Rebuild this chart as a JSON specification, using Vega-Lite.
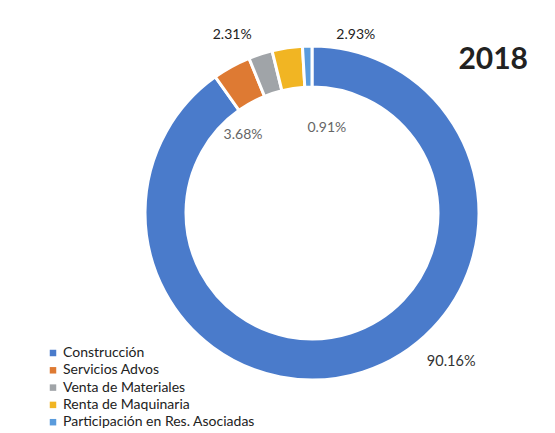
{
  "$schema": "https://vega.github.io/schema/vega-lite/v6.json",
  "autosize": {"type": "none"},
  "width": 486,
  "height": 426,
  "padding": {"left": 69, "top": 0, "right": 0, "bottom": 7},
  "background": "white",
  "title": {
    "text": "2018",
    "anchor": "end",
    "orient": "top",
    "font": "Lato",
    "fontSize": 30,
    "fontWeight": "bold",
    "color": "#222222",
    "baseline": "alphabetic",
    "offset": 0,
    "dx": -27,
    "dy": 99
  },
  "data": {
    "values": [
      {"categoria": "Construcción", "valor": 90.16, "etiqueta": "90.16%", "orden": 1},
      {"categoria": "Servicios Advos", "valor": 3.68, "etiqueta": "3.68%", "orden": 2},
      {"categoria": "Venta de Materiales", "valor": 2.31, "etiqueta": "2.31%", "orden": 3},
      {"categoria": "Renta de Maquinaria", "valor": 2.93, "etiqueta": "2.93%", "orden": 4},
      {"categoria": "Participación en Res. Asociadas", "valor": 0.91, "etiqueta": "0.91%", "orden": 5}
    ]
  },
  "transform": [
    {"stack": "valor", "groupby": [], "sort": [{"field": "orden", "order": "ascending"}], "as": ["v0", "v1"]},
    {"calculate": "(datum.v0 + datum.v1) / 2", "as": "medio"}
  ],
  "layer": [
    {
      "mark": {"type": "arc", "outerRadius": 167, "innerRadius": 126, "stroke": "white", "strokeWidth": 3},
      "encoding": {
        "theta": {"field": "v0", "type": "quantitative", "scale": {"domain": [0, 99.99]}},
        "theta2": {"field": "v1"},
        "color": {
          "field": "categoria",
          "type": "nominal",
          "sort": ["Construcción", "Servicios Advos", "Venta de Materiales", "Renta de Maquinaria", "Participación en Res. Asociadas"],
          "scale": {
            "domain": ["Construcción", "Servicios Advos", "Venta de Materiales", "Renta de Maquinaria", "Participación en Res. Asociadas"],
            "range": ["#4A7BCB", "#DE7A33", "#A0A4A8", "#F1B523", "#5A9BDC"]
          },
          "legend": {
            "title": null,
            "orient": "none",
            "legendX": -23,
            "legendY": 346,
            "symbolType": "square",
            "symbolSize": 42,
            "symbolStrokeWidth": 0,
            "labelFont": "Lato",
            "labelFontSize": 14,
            "labelColor": "#222222",
            "labelOffset": 3,
            "labelLimit": 300,
            "rowPadding": 3.3
          }
        }
      }
    },
    {
      "transform": [{"filter": "datum.categoria === 'Construcción'"}],
      "mark": {"type": "text", "radius": 204, "thetaOffset": -0.442, "font": "Lato", "fontSize": 14.5, "color": "#333333"},
      "encoding": {"theta": {"field": "medio", "type": "quantitative"}, "text": {"field": "etiqueta"}}
    },
    {
      "transform": [{"filter": "datum.categoria === 'Servicios Advos'"}],
      "mark": {"type": "text", "radius": 104, "thetaOffset": -0.223, "font": "Lato", "fontSize": 14, "color": "#666666"},
      "encoding": {"theta": {"field": "medio", "type": "quantitative"}, "text": {"field": "etiqueta"}}
    },
    {
      "transform": [{"filter": "datum.categoria === 'Venta de Materiales'"}],
      "mark": {"type": "text", "radius": 195, "thetaOffset": -0.108, "font": "Lato", "fontSize": 14, "color": "#222222"},
      "encoding": {"theta": {"field": "medio", "type": "quantitative"}, "text": {"field": "etiqueta"}}
    },
    {
      "transform": [{"filter": "datum.categoria === 'Renta de Maquinaria'"}],
      "mark": {"type": "text", "radius": 183, "thetaOffset": 0.391, "font": "Lato", "fontSize": 14, "color": "#222222"},
      "encoding": {"theta": {"field": "medio", "type": "quantitative"}, "text": {"field": "etiqueta"}}
    },
    {
      "transform": [{"filter": "datum.categoria === 'Participación en Res. Asociadas'"}],
      "mark": {"type": "text", "radius": 86, "thetaOffset": 0.202, "font": "Lato", "fontSize": 14, "color": "#666666"},
      "encoding": {"theta": {"field": "medio", "type": "quantitative"}, "text": {"field": "etiqueta"}}
    }
  ],
  "config": {"view": {"stroke": null}}
}
